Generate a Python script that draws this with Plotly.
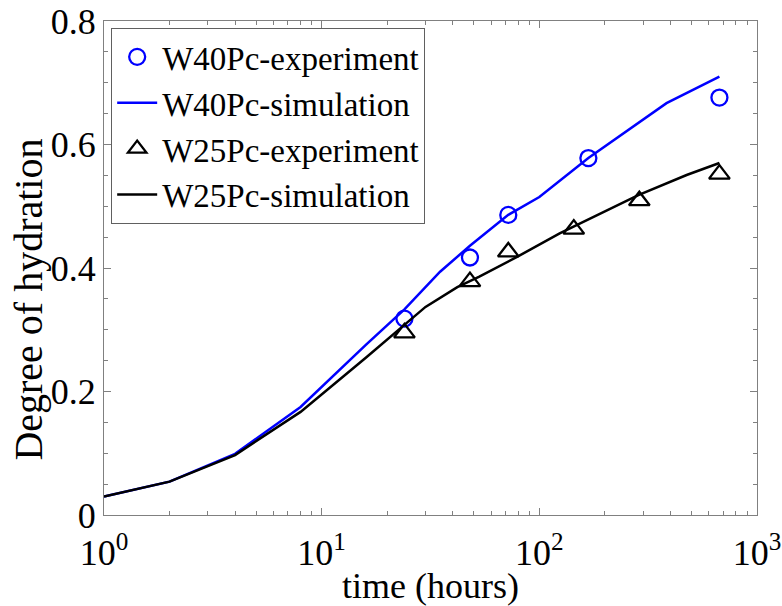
import plotly.graph_objects as go

# Data
w40_exp_t = [24, 48, 72, 168, 672]
w40_exp_v = [0.318, 0.417, 0.486, 0.578, 0.676]
w25_exp_t = [24, 48, 72, 144, 288, 672]
w25_exp_v = [0.295, 0.378, 0.426, 0.463, 0.509, 0.552]

w40_sim_t = [1, 2, 4, 8, 16, 24, 35, 48, 72, 100, 168, 384, 672]
w40_sim_v = [0.030, 0.054, 0.099, 0.175, 0.276, 0.333, 0.394, 0.436, 0.486, 0.515, 0.578, 0.667, 0.710]
w25_sim_t = [1, 2, 4, 8, 16, 24, 30, 42, 53, 79, 124, 285, 475, 672]
w25_sim_v = [0.030, 0.054, 0.097, 0.167, 0.255, 0.308, 0.337, 0.369, 0.386, 0.418, 0.456, 0.518, 0.5506, 0.570]

x_tickvals = [1, 10, 100, 1000]
x_ticktext = ["10<sup>0</sup>", "10<sup>1</sup>", "10<sup>2</sup>", "10<sup>3</sup>"]
x_minor = [k * 10 ** n for n in range(3) for k in range(2, 10)]
y_tickvals = [0, 0.2, 0.4, 0.6, 0.8]
y_ticktext = ["0", "0.2", "0.4", "0.6", "0.8"]
x_title = "time (hours)"
y_title = "Degree of hydration"

FONT = "Liberation Serif, Times New Roman, serif"
BLUE = "#0000ff"
AX = "#808080"

fig = go.Figure()
fig.add_trace(go.Scatter(x=w40_exp_t, y=w40_exp_v, mode="markers", name="W40Pc-experiment",
                         marker=dict(symbol="circle-open", size=16, color=BLUE, line=dict(width=2.3, color=BLUE))))
fig.add_trace(go.Scatter(x=w40_sim_t, y=w40_sim_v, mode="lines", name="W40Pc-simulation",
                         line=dict(color=BLUE, width=2.5)))
fig.add_trace(go.Scatter(x=w25_exp_t, y=w25_exp_v, mode="markers", name="W25Pc-experiment",
                         marker=dict(symbol="triangle-up-open", size=18, color="black", line=dict(width=2.3, color="black"))))
fig.add_trace(go.Scatter(x=w25_sim_t, y=w25_sim_v, mode="lines", name="W25Pc-simulation",
                         line=dict(color="black", width=2.5)))

axis_common = dict(showline=True, linecolor=AX, linewidth=1.2, mirror="ticks",
                   ticks="inside", tickcolor=AX, showgrid=False, zeroline=False,
                   automargin=False,
                   tickfont=dict(family=FONT, size=36, color="black"),
                   title_font=dict(family=FONT, size=36, color="black"))

fig.update_xaxes(type="log", range=[0, 3], tickvals=x_tickvals, ticktext=x_ticktext,
                 ticklen=7, title_text=x_title, title_standoff=4,
                 ticklabelstandoff=6,
                 minor=dict(tickvals=x_minor, ticks="inside", ticklen=4, tickcolor=AX),
                 **axis_common)
fig.update_yaxes(range=[0, 0.8], tickvals=y_tickvals, ticktext=y_ticktext,
                 ticklen=7,
                 minor=dict(dtick=0.05, ticks="inside", ticklen=4, tickcolor=AX),
                 **axis_common)

# y-axis title placed as rotated text (centred slightly below plot middle, as in the reference)
fig.add_annotation(text=y_title, textangle=-90, xref="paper", yref="paper",
                   x=-0.1156, y=0.435, xanchor="center", yanchor="middle", showarrow=False,
                   font=dict(family=FONT, size=40, color="black"))

fig.update_layout(
    width=782, height=606,
    margin=dict(l=104, r=25, t=21, b=91),
    plot_bgcolor="white", paper_bgcolor="white",
    font=dict(family=FONT, size=36, color="black"),
    legend=dict(x=0.011, y=0.986, xanchor="left", yanchor="top",
                bgcolor="white", bordercolor="#606060", borderwidth=1,
                font=dict(family=FONT, size=33, color="black"),
                tracegroupgap=0, itemwidth=40),
    showlegend=True,
)

fig.write_html("out.html")
